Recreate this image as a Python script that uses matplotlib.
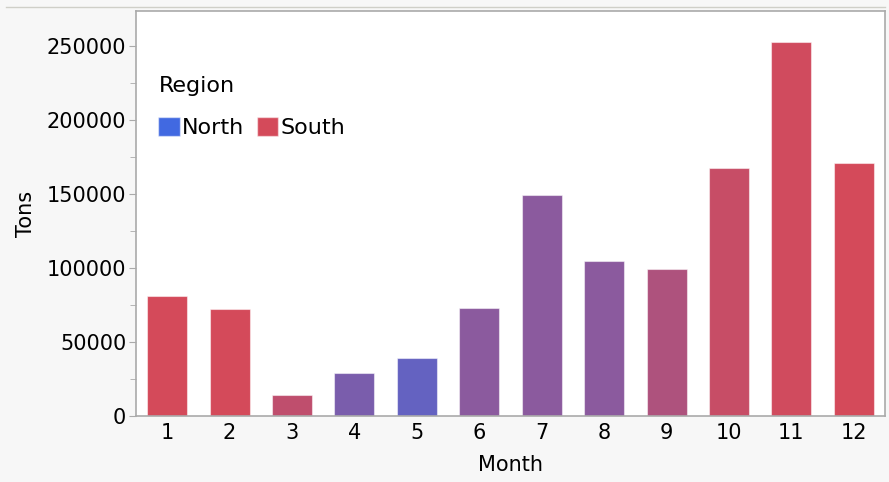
import matplotlib
matplotlib.use("Agg")
import matplotlib.pyplot as plt
from matplotlib.patches import Patch
from matplotlib.lines import Line2D
from matplotlib.ticker import MultipleLocator

months = list(range(1, 13))
tons = [81300, 72300, 14000, 29400, 39500, 73200,
        149700, 105000, 99600, 167800, 253200, 170900]
# share of each month's tonnage that comes from the North region
north_share = [0.0, 0.0, 0.14, 0.61, 0.76, 0.50,
               0.50, 0.50, 0.26, 0.09, 0.03, 0.0]
regions = ["North", "South"]

NORTH_C = (65, 105, 225)
SOUTH_C = (212, 74, 90)
FS = 15


def blend(f):
    return tuple((f * n + (1 - f) * s) / 255 for n, s in zip(NORTH_C, SOUTH_C))


plt.rcParams["font.family"] = ["DejaVu Sans"]

fig = plt.figure(figsize=(8.89, 4.82), dpi=100, facecolor="#F7F7F7")
ax = fig.add_axes([136 / 889, 1 - 416 / 482, 749 / 889, 405 / 482])
ax.set_facecolor("white")

colors = [blend(f) for f in north_share]
ax.bar(months, tons, width=0.64, color=colors,
       edgecolor=(1, 1, 1, 0.5), linewidth=0.8, zorder=2)

ax.set_xlim(0.5, 12.5)
ax.set_ylim(0, 274000)
ax.set_xticks(months)
ax.set_xticklabels([str(m) for m in months])
ax.yaxis.set_major_locator(MultipleLocator(50000))
ax.yaxis.set_minor_locator(MultipleLocator(25000))
ax.tick_params(axis="x", length=0, labelsize=FS, pad=5)
ax.tick_params(axis="y", which="major", length=5, color="#AAAAAA",
               labelsize=FS, pad=2)
ax.tick_params(axis="y", which="minor", length=4, color="#AAAAAA")
for sp in ax.spines.values():
    sp.set_color("#AAAAAA")
    sp.set_linewidth(1.2)

ax.set_xlabel("Month", fontsize=FS, labelpad=9)
ax.set_ylabel("Tons", fontsize=FS, labelpad=8)

handles = [Patch(facecolor=blend(1.0), edgecolor=(1, 1, 1, 0.5)),
           Patch(facecolor=blend(0.0), edgecolor=(1, 1, 1, 0.5))]
leg = ax.legend(handles, regions, title="Region", ncol=2, loc="upper left",
                bbox_to_anchor=(0.03, 0.84), frameon=False, fontsize=16,
                title_fontsize=16, handlelength=0.95, handleheight=0.95,
                handletextpad=0.1, columnspacing=0.6, alignment="left",
                borderaxespad=0, borderpad=0)
leg._legend_box.sep = 15

# thin frame line across the top of the figure
fig.add_artist(Line2D([6 / 889, 885 / 889], [1 - 7 / 482, 1 - 7 / 482],
                      color="#CFCFC8", lw=1, transform=fig.transFigure))

fig.savefig("out.png", dpi=100, facecolor=fig.get_facecolor())
